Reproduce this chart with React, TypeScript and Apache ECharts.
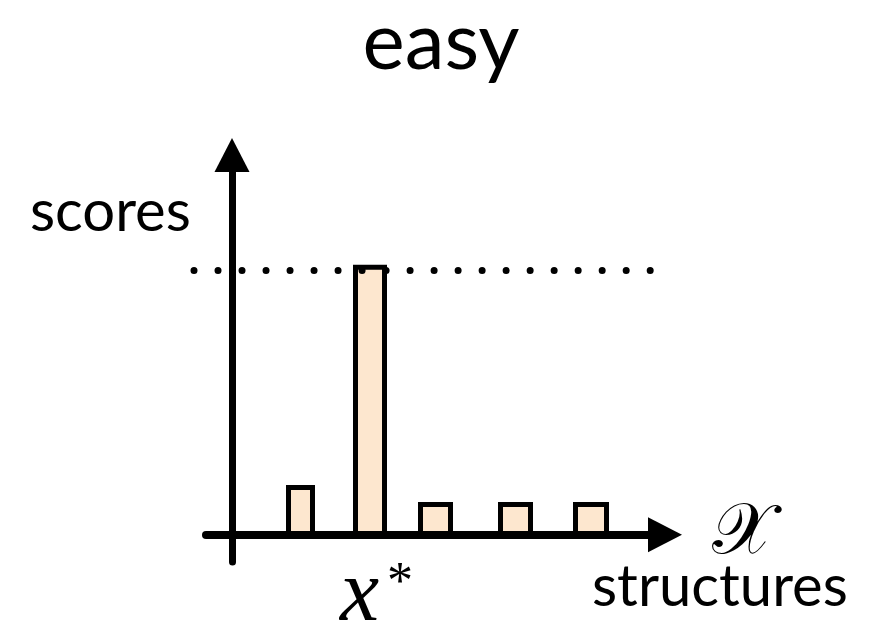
import React, { useEffect, useRef } from "react";
import * as echarts from "echarts";

// Structures along the x axis: each bar spans [barStart, barEnd]
const barStart = [5.65, 12.35, 18.85, 26.85, 34.35];
const barEnd = [8.05, 15.25, 21.85, 29.85, 37.45];
const scores = [1.75, 9.86, 1.12, 1.12, 1.12];

// Dotted reference level (best score)
const dotLevel = 9.74;
const dotFrom = -3.8;
const dotTo = 41.9;

// Texts
const titleText = "easy";
const yName = "scores";
const xName = "structures";
const spaceSymbol = "𝒳";
const bestVar = "x";
const bestSup = "*";

export default function App() {
  const ref = useRef<HTMLDivElement>(null);
  useEffect(() => {
    if (!ref.current) return;
    const chart = echarts.init(ref.current, undefined, { renderer: "svg" });
    const barData = barStart.map((s, i) => [s, barEnd[i], scores[i]]);
    const sans = "Lato, Open Sans, sans-serif";
    const serif = "Liberation Serif, DejaVu Serif, serif";
    chart.setOption({
      animation: false,
      backgroundColor: "#ffffff",
      grid: { left: 206, top: 155, width: 459, height: 407, containLabel: false },
      xAxis: {
        type: "value",
        min: -2.6,
        max: 43.3,
        z: 10,
        axisLine: {
          show: true,
          onZero: true,
          symbol: ["none", "triangle"],
          symbolSize: [35, 34],
          lineStyle: { color: "#000", width: 8 },
        },
        axisTick: { show: false },
        axisLabel: { show: false },
        splitLine: { show: false },
      },
      yAxis: {
        type: "value",
        min: -1,
        max: 14,
        z: 10,
        axisLine: {
          show: true,
          onZero: true,
          symbol: ["none", "triangle"],
          symbolSize: [35, 34],
          lineStyle: { color: "#000", width: 7 },
        },
        axisTick: { show: false },
        axisLabel: { show: false },
        splitLine: { show: false },
      },
      series: [
        {
          type: "custom",
          clip: false,
          z: 2,
          encode: { x: [0, 1], y: 2 },
          data: barData,
          renderItem: (params: any, api: any) => {
            const p0 = api.coord([api.value(0), api.value(2)]);
            const p1 = api.coord([api.value(1), 0]);
            return {
              type: "rect",
              shape: { x: p0[0], y: p0[1], width: p1[0] - p0[0], height: p1[1] - p0[1] },
              style: { fill: "#FDE7CF", stroke: "#000", lineWidth: 5 },
            };
          },
        },
        {
          type: "custom",
          clip: false,
          z: 3,
          encode: { x: [0, 1], y: 2 },
          data: [[dotFrom, dotTo, dotLevel]],
          renderItem: (params: any, api: any) => {
            const a = api.coord([api.value(0), api.value(2)]);
            const b = api.coord([api.value(1), api.value(2)]);
            return {
              type: "line",
              shape: { x1: a[0], y1: a[1], x2: b[0], y2: b[1] },
              style: { stroke: "#000", lineWidth: 7, lineDash: [0.01, 24], lineCap: "round" },
            };
          },
        },
      ],
      graphic: [
        {
          type: "text",
          x: 441,
          y: 38,
          style: { text: titleText, fontSize: 80, fontFamily: sans, fill: "#000", align: "center", verticalAlign: "middle" },
        },
        {
          type: "text",
          x: 30,
          y: 208,
          style: { text: yName, fontSize: 58, fontFamily: sans, fill: "#000", align: "left", verticalAlign: "middle" },
        },
        {
          type: "text",
          x: 592,
          y: 583,
          style: { text: xName, fontSize: 58, fontFamily: sans, fill: "#000", align: "left", verticalAlign: "middle" },
        },
        {
          type: "text",
          x: 340,
          y: 590,
          style: { text: bestVar, fontSize: 88, fontStyle: "italic", fontFamily: serif, fill: "#000", align: "left", verticalAlign: "middle" },
        },
        {
          type: "text",
          x: 387,
          y: 580,
          style: { text: bestSup, fontSize: 52, fontFamily: serif, fill: "#000", align: "left", verticalAlign: "middle" },
        },
        {
          type: "text",
          x: 743,
          y: 528,
          style: { text: spaceSymbol, fontSize: 72, fontFamily: "DejaVu Serif, DejaVu Sans, Noto Sans, serif", fill: "#000", align: "center", verticalAlign: "middle" },
        },
      ],
    });
    return () => chart.dispose();
  }, []);
  return (
    <div
      ref={ref}
      style={{ position: "absolute", left: 0, top: 0, width: 870, height: 627, background: "#fff" }}
    />
  );
}
